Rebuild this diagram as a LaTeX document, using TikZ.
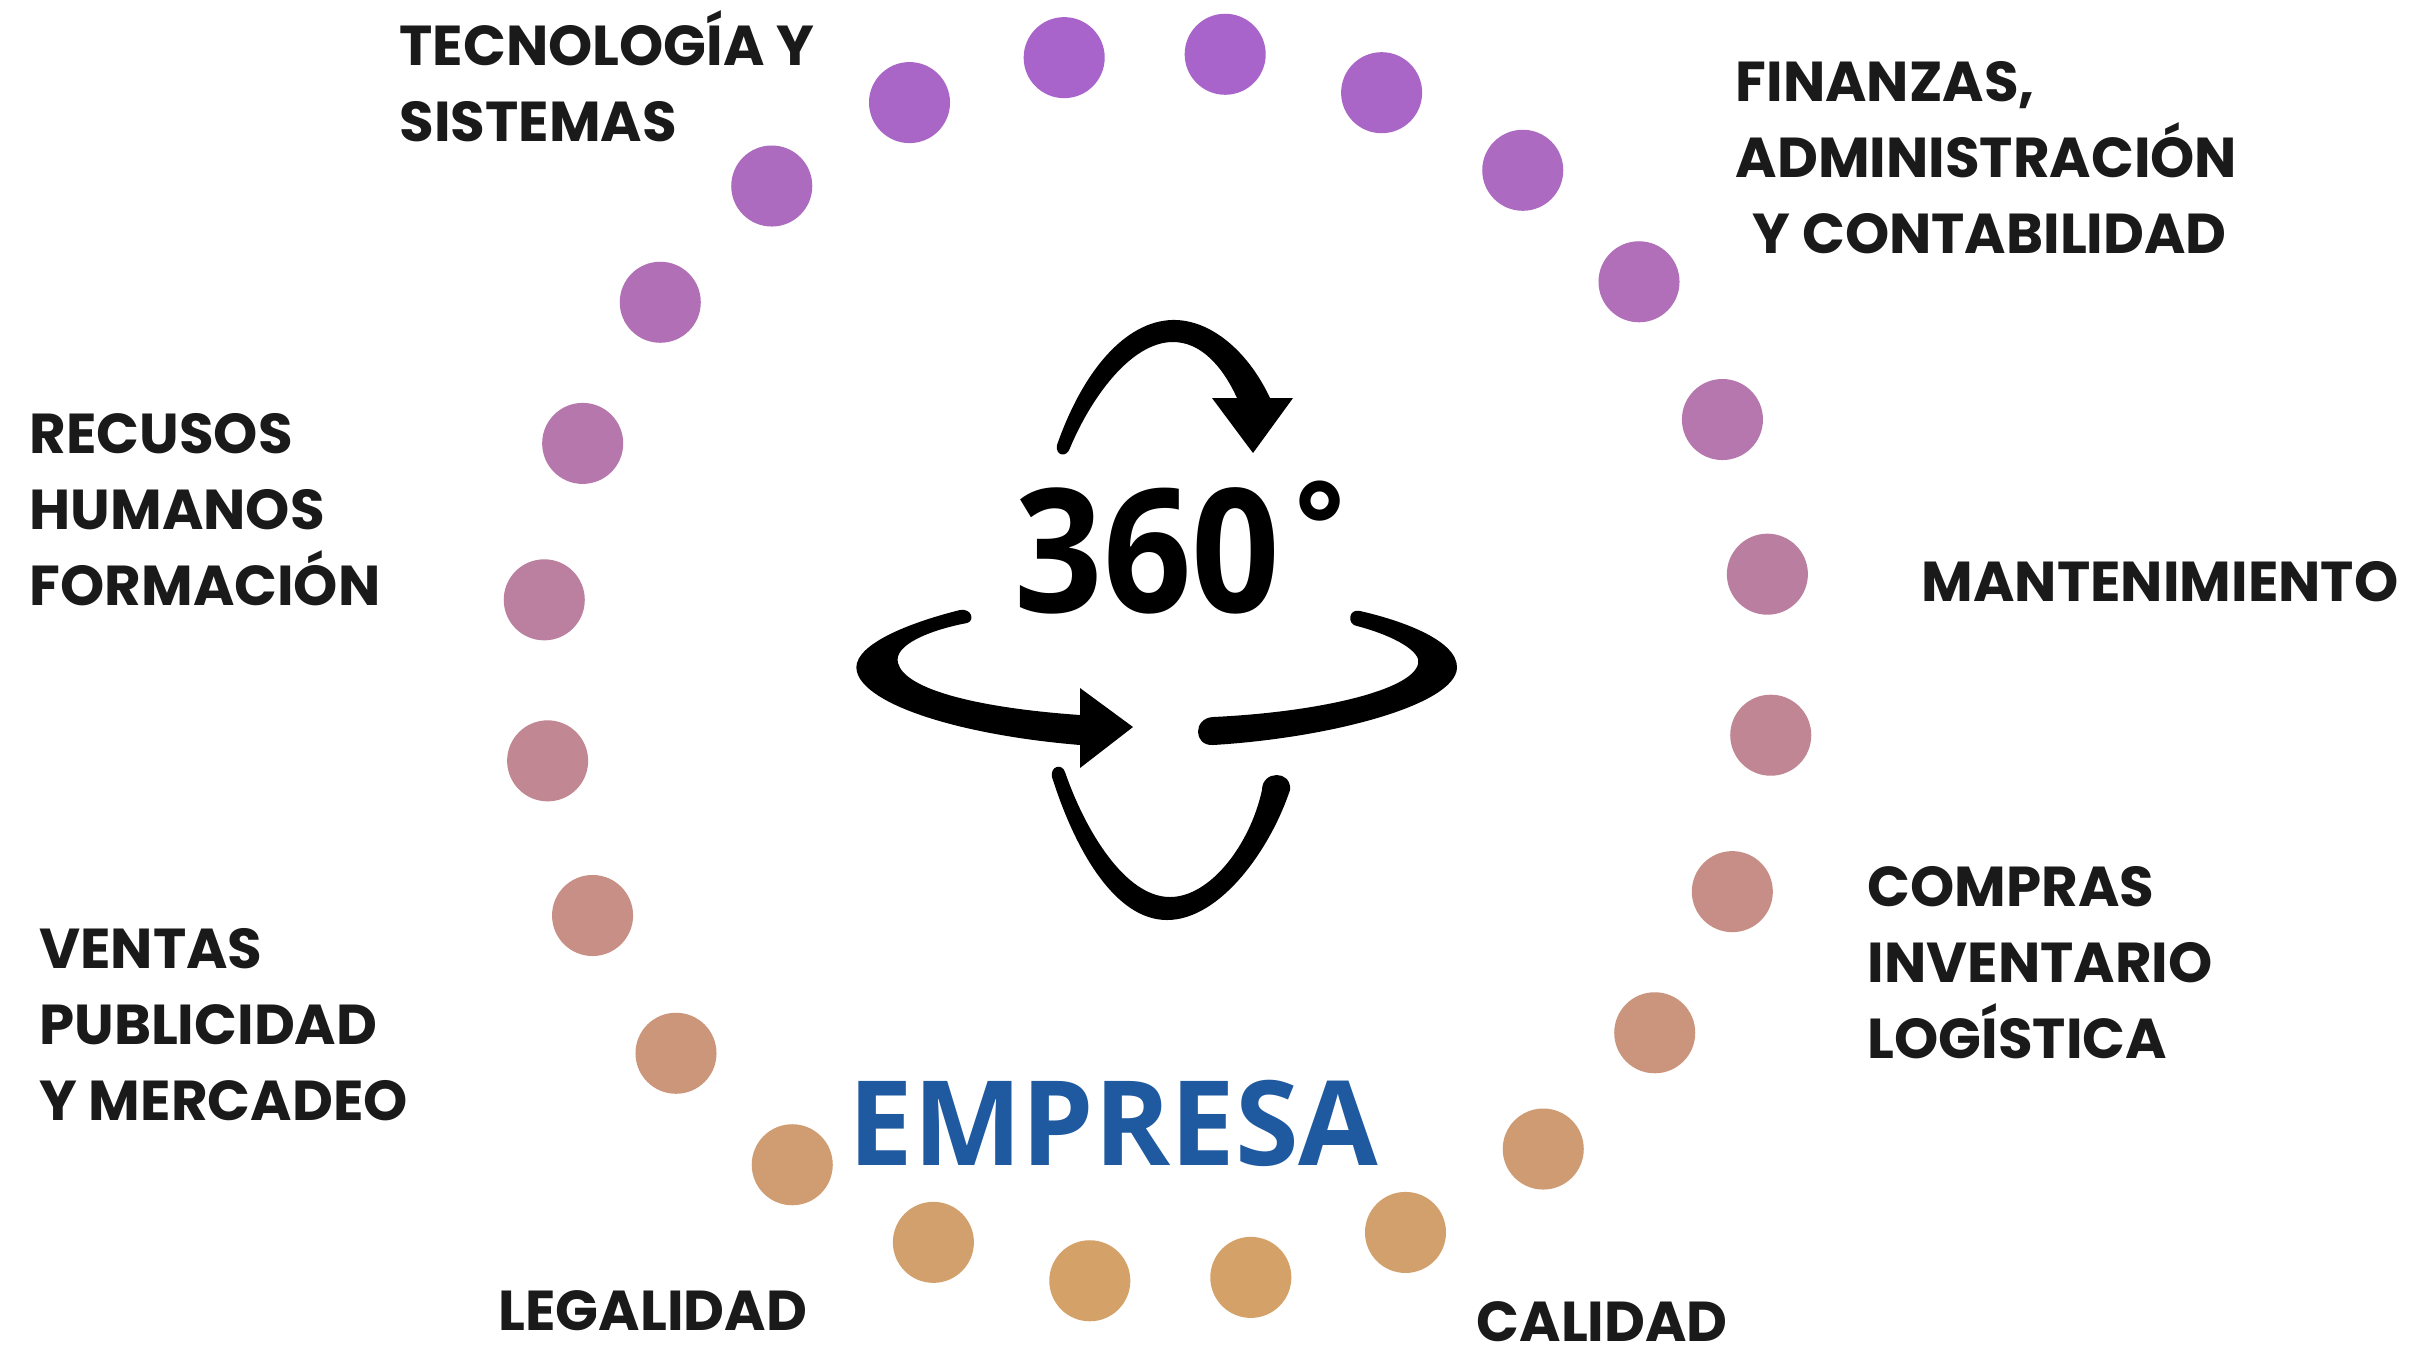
\documentclass[tikz,border=0pt]{standalone}
\usepackage{fontspec}
\usepackage{xcolor}
\usepackage{tikz}
\usetikzlibrary{calc}
\newfontfamily\labelfont{Poppins}
\newfontfamily\iconfont{Open Sans}
\definecolor{dottop}{RGB}{168,100,202}
\definecolor{dotbottom}{RGB}{212,162,104}
\definecolor{labelgray}{RGB}{26,26,26}
\definecolor{empresablue}{RGB}{31,90,160}

\begin{document}
\begin{tikzpicture}
	[x=0.01cm,y=-0.01cm,
	area/.style={font=\labelfont\bfseries\fontsize{16}{21.6}\selectfont,text=labelgray,align=left,anchor=base west,inner sep=0pt},
	dot/.style={circle,inner sep=0pt,minimum size=0.81cm},
	icon/.style={fill=black}]
	\useasboundingbox (0,0) rectangle (2420,1347);
	\fill[white] (0,0) rectangle (2420,1347);
	\coordinate (c) at (1157.5,667.5);
	\foreach \k in {0,...,23}{
		\pgfmathsetmacro\ang{-8.7-15*\k}
		\pgfmathtruncatemacro\pct{max(0,min(100,(617.5+617*sin(\ang))/12.3))}
		\colorlet{dotc}{dotbottom!\pct!dottop}
		\node[dot,fill=dotc] (d\k) at ($(c)+(\ang:617)$) {};
	}
	\node[area] (tec) at (399,141.6) {TECNOLOGÍA Y\\SISTEMAS};
	\node[area] (rh) at (29,605) {RECUSOS\\HUMANOS\\FORMACIÓN};
	\node[area] (fin) at (1735,253) {FINANZAS,\\ADMINISTRACIÓN\\\hspace*{0.3em}Y CONTABILIDAD};
	\node[area] (mant) at (1921,601) {MANTENIMIENTO};
	\node[area] (ventas) at (38.6,1120) {VENTAS\\PUBLICIDAD\\Y MERCADEO};
	\node[area] (legal) at (498,1330) {LEGALIDAD};
	\node[area] (compras) at (1867,1058) {COMPRAS\\INVENTARIO\\LOGÍSTICA};
	\node[area] (cal) at (1476,1341) {CALIDAD};
	\node[font=\iconfont\bfseries\fontsize{49}{49}\selectfont,xscale=0.9,anchor=base west,inner sep=0pt] (grados) at (1014,612) {360};
	\node[font=\iconfont\bfseries\fontsize{34}{34}\selectfont,anchor=north,inner sep=0pt] (signo) at (1320,480) {°};
	\node[font=\iconfont\bfseries\fontsize{33.5}{33.5}\selectfont,text=empresablue,xscale=0.98,anchor=base,inner sep=0pt] (empresa) at (1113.5,1165) {EMPRESA};
	\fill[icon] (1057,445) .. controls (1085,365) and (1130,318) .. (1177,320) .. controls (1215,322) and (1250,355) .. (1270,398)
		-- (1293,398) -- (1253,453) -- (1212,398) -- (1237,398)
		.. controls (1222,365) and (1200,342) .. (1173,342) .. controls (1130,342) and (1090,400) .. (1070,448)
		.. controls (1067,458) and (1055,456) .. cycle;
	\fill[icon] (960,610) .. controls (900,625) and (850,648) .. (857,672) .. controls (866,705) and (960,735) .. (1080,745)
		-- (1080,768) -- (1133,727) -- (1080,688) -- (1080,715)
		.. controls (980,708) and (905,690) .. (898,663) .. controls (893,645) and (930,630) .. (967,623)
		.. controls (975,621) and (972,608) .. cycle;
	\fill[icon] (1213,745) .. controls (1330,738) and (1455,705) .. (1457,668) .. controls (1458,640) and (1400,620) .. (1360,611)
		.. controls (1348,608) and (1347,625) .. (1357,626)
		.. controls (1395,636) and (1422,652) .. (1418,664) .. controls (1412,690) and (1320,712) .. (1213,717)
		.. controls (1193,718) and (1193,746) .. cycle;
	\fill[icon] (1052,777) .. controls (1075,850) and (1115,920) .. (1167,920) .. controls (1220,920) and (1270,850) .. (1290,790)
		.. controls (1292,770) and (1262,770) .. (1262,790)
		.. controls (1250,845) and (1210,897) .. (1170,897) .. controls (1125,897) and (1085,830) .. (1065,772)
		.. controls (1062,763) and (1050,766) .. cycle;
\end{tikzpicture}
\end{document}
